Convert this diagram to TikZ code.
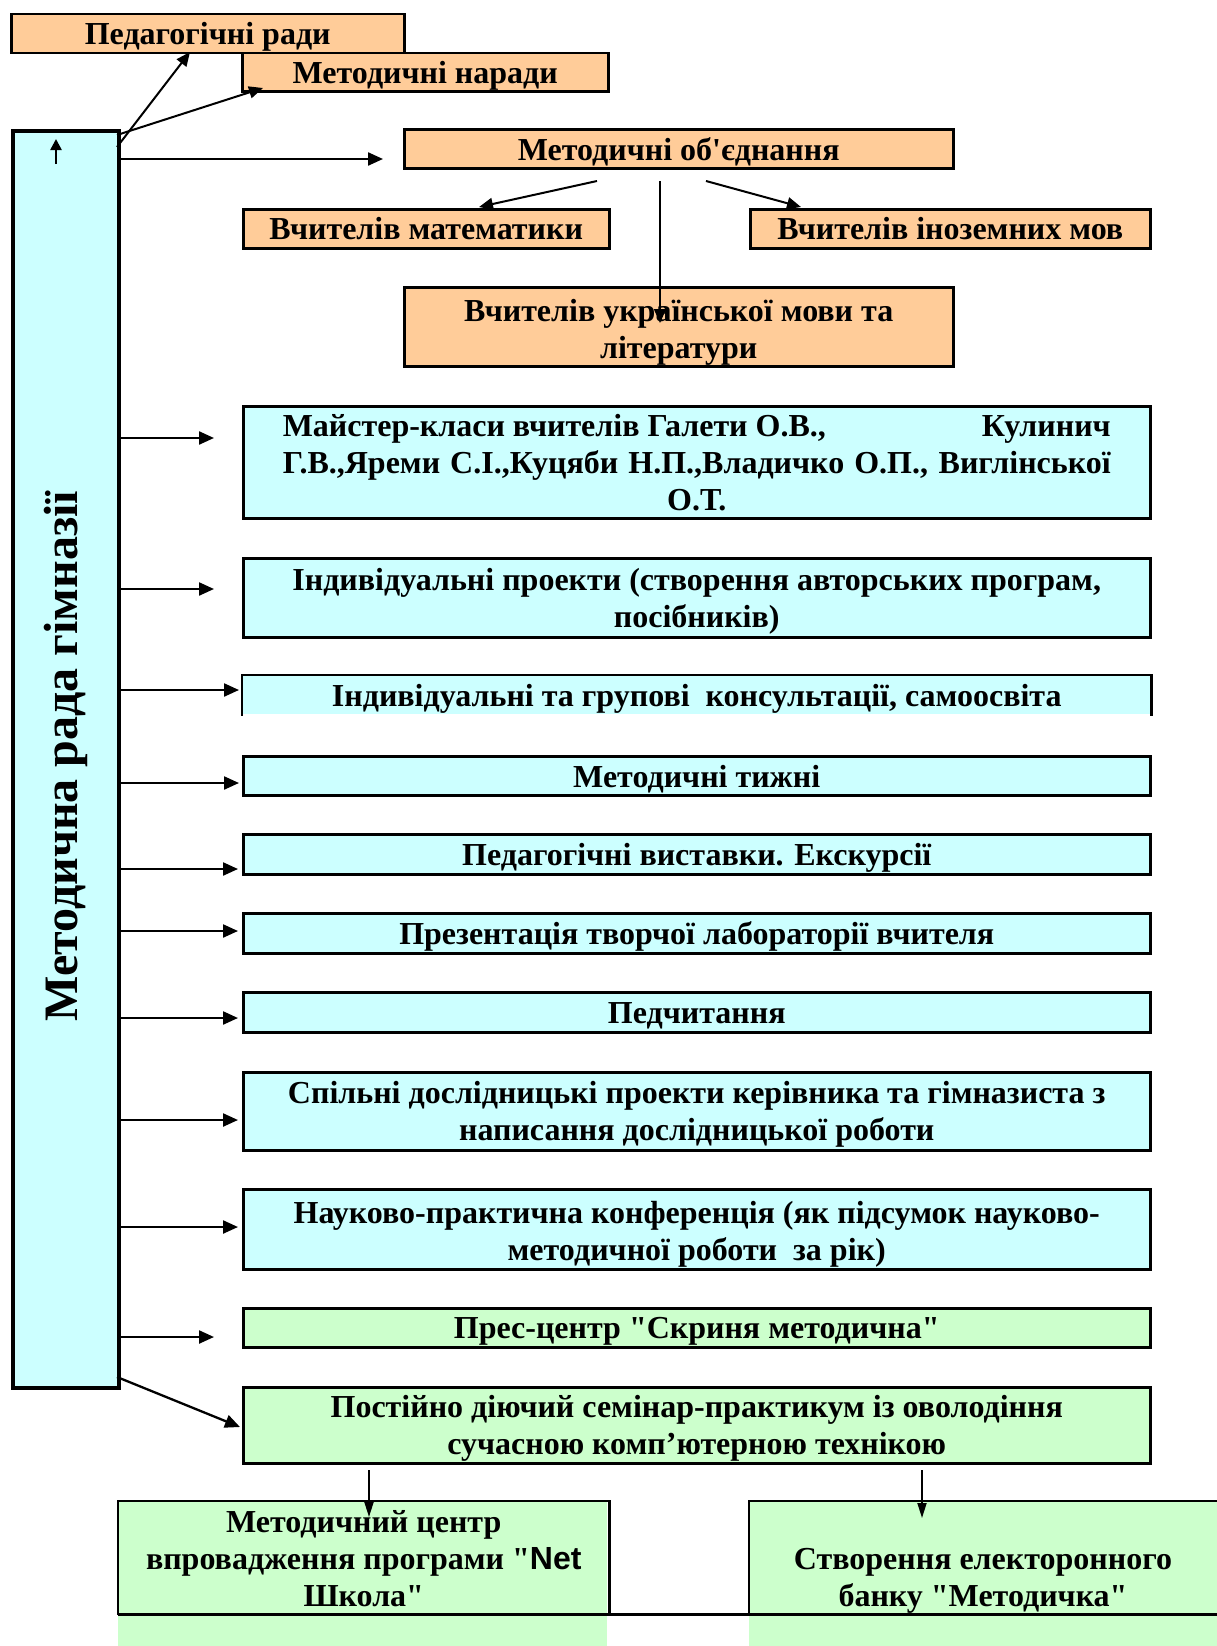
\documentclass[tikz,border=0pt]{standalone}
\usepackage{fontspec}
\setmainfont{Liberation Serif}[Ligatures=TeXOff]
\newfontfamily\sansb{Liberation Sans}[Ligatures=TeXOff]
\usetikzlibrary{arrows.meta}
\definecolor{orng}{HTML}{FFCC99}
\definecolor{cyn}{HTML}{CCFFFF}
\definecolor{grn}{HTML}{CCFFCC}
\tikzset{
  bx/.style={draw=black, line width=2.5pt, anchor=north west, inner sep=0pt},
  obox/.style={bx, fill=orng},
  cbox/.style={bx, fill=cyn},
  gbox/.style={bx, fill=grn},
  txt/.style={inner sep=0pt, align=center, yshift=-3.5pt,
    font=\fontsize{32}{37}\selectfont\bfseries},
  txz/.style={inner sep=0pt, align=center,
    font=\fontsize{32}{37}\selectfont\bfseries},
  arr/.style={line width=2.3pt, -{Triangle[length=15pt,width=13pt]}},
  arrs/.style={line width=2pt, -{Triangle[length=14pt,width=12pt]}},
  arrd/.style={line width=1.8pt, -{Triangle[length=15pt,width=9pt]}},
}
\begin{document}
\begin{tikzpicture}[x=1pt,y=-1pt]
\useasboundingbox (0,0) rectangle (1217,1646);
% left tall box
\node[cbox, line width=3.5pt, minimum width=106pt, minimum height=1257pt] (L) at (11,129) {};
\node[rotate=90, inner sep=0pt, font=\fontsize{48}{48}\selectfont\bfseries] (Lt) at (66,756) {Методична рада гімназії};
% orange boxes
\node[obox, minimum width=393pt, minimum height=39pt] (PR) at (10,13) {};
\node[txt] (PRt) at (PR.center) {Педагогічні ради};
\node[obox, minimum width=366pt, minimum height=38pt] (MN) at (241,52) {};
\node[txt] (MNt) at (MN.center) {Методичні наради};
\node[obox, minimum width=549pt, minimum height=39pt] (MO) at (403,128) {};
\node[txt] (MOt) at (MO.center) {Методичні об'єднання};
\node[obox, minimum width=366pt, minimum height=39pt] (VM) at (242,208) {};
\node[txz] (VMt) at (VM.center) {Вчителів математики};
\node[obox, minimum width=400pt, minimum height=39pt] (VI) at (749,208) {};
\node[txz] (VIt) at (VI.center) {Вчителів іноземних мов};
\node[obox, minimum width=549pt, minimum height=79pt] (VU) at (403,286) {};
\node[txz, yshift=-5.5pt] (VUt) at (VU.center) {Вчителів української мови та\\літератури};
% cyan boxes
\node[cbox, minimum width=907pt, minimum height=112pt] (MK) at (242,405) {};
\node[txz, yshift=-0.5pt] (MKt) at (MK.center) {\makebox[828pt]{Майстер-класи вчителів Галети О.В.,\hfill Кулинич}\\\makebox[828pt][s]{Г.В.,Яреми С.І.,Куцяби Н.П.,Владичко О.П., Виглінської}\\О.Т.};
\node[cbox, minimum width=907pt, minimum height=79pt] (IP) at (242,557) {};
\node[txt] (IPt) at (IP.center) {Індивідуальні проекти (створення авторських програм,\\посібників)};
\node[cbox, draw=none, minimum width=907pt, minimum height=38pt] (KS) at (242,675) {};
\draw[line width=2.5pt] (KS.south west) -- (KS.north west) -- (KS.north east) -- (KS.south east);
\node[txt] (KSt) at (KS.center) {Індивідуальні та групові\ \ консультації, самоосвіта};
\node[cbox, minimum width=907pt, minimum height=39pt] (MT) at (242,755) {};
\node[txt] (MTt) at (MT.center) {Методичні тижні};
\node[cbox, minimum width=907pt, minimum height=40pt] (PV) at (242,833) {};
\node[txt] (PVt) at (PV.center) {Педагогічні виставки. Екскурсії};
\node[cbox, minimum width=907pt, minimum height=40pt] (PT) at (242,912) {};
\node[txt] (PTt) at (PT.center) {Презентація творчої лабораторії вчителя};
\node[cbox, minimum width=907pt, minimum height=40pt] (PC) at (242,991) {};
\node[txt] (PCt) at (PC.center) {Педчитання};
\node[cbox, minimum width=907pt, minimum height=78pt] (SD) at (242,1071) {};
\node[txt] (SDt) at (SD.center) {Спільні дослідницькі проекти керівника та гімназиста з\\написання дослідницької роботи};
\node[cbox, minimum width=907pt, minimum height=80pt] (NP) at (242,1188) {};
\node[txt, yshift=-1.5pt] (NPt) at (NP.center) {Науково-практична конференція (як підсумок науково-\\методичної роботи\ \ за рік)};
% green boxes
\node[gbox, minimum width=907pt, minimum height=39pt] (PRC) at (242,1307) {};
\node[txt] (PRCt) at (PRC.center) {Прес-центр "Скриня методична"};
\node[gbox, minimum width=907pt, minimum height=76pt] (PS) at (242,1386) {};
\node[txt] (PSt) at (PS.center) {Постійно діючий семінар-практикум із оволодіння\\сучасною комп’ютерною технікою};
% bottom boxes
\fill[grn] (118,1501) rectangle (607,1646);
\fill[grn] (749,1501) rectangle (1217,1646);
\node[bx, draw=none, minimum width=489pt, minimum height=111pt] (BL) at (118,1501) {};
\node[bx, draw=none, minimum width=468pt, minimum height=111pt] (BR) at (749,1501) {};
\draw[line width=2.5pt] (BL.south west) -- (BL.north west) -- (BL.north east) -- (BL.south east);
\draw[line width=2.5pt] (BR.south west) -- (BR.north west) -- (BR.north east);
\draw[line width=2.5pt] (BL.south west) -- (BR.south east);
\node[txz, yshift=-1pt] (BLt) at (BL.center) {Методичний центр\\впровадження програми "{\sansb Net}\\Школа"};
\node[txt] (BRt) at (983,1577) {Створення електоронного\\банку "Методичка"};
% arrows from left box (top)
\coordinate (s0a) at (56,164); \coordinate (t0a) at (56,139);
\draw[line width=2.5pt, -{Triangle[length=11pt,width=11pt]}] (s0a) -- (t0a);
\coordinate (s1) at (117,147); \coordinate (t1) at (190,52);
\coordinate (s2) at (117,135); \coordinate (t2) at (263,88);
\coordinate (s3) at (117,159); \coordinate (t3) at (383,159);
\draw[arrs] (s1) -- (t1);
\draw[arrs] (s2) -- (t2);
\draw[arr] (s3) -- (t3);
% from МО
\coordinate (m1) at (597,181); \coordinate (n1) at (479,207);
\coordinate (m2) at (706,181); \coordinate (n2) at (801,207);
\coordinate (m3) at (660,181); \coordinate (n3) at (660,323);
\draw[arrs] (m1) -- (n1);
\draw[arrs] (m2) -- (n2);
\draw[arrs] (m3) -- (n3);
% left arrows
\foreach \yy/\tx/\nm in {438/214/a, 589/214/b, 690/239/c, 783/239/d, 869/238/e, 931/238/f, 1018/238/g, 1120/238/h, 1227/238/i, 1337/214/j}{
  \coordinate (ls\nm) at (117,\yy);
  \coordinate (lt\nm) at (\tx,\yy);
  \draw[arr] (ls\nm) -- (lt\nm);
}
\coordinate (lsk) at (117,1377); \coordinate (ltk) at (240,1427);
\draw[arr] (lsk) -- (ltk);
% down arrows
\coordinate (d1) at (369,1470); \coordinate (e1) at (369,1517);
\coordinate (d2) at (922,1470); \coordinate (e2) at (922,1518);
\draw[arrd] (d1) -- (e1);
\draw[arrd] (d2) -- (e2);
\end{tikzpicture}
\end{document}
